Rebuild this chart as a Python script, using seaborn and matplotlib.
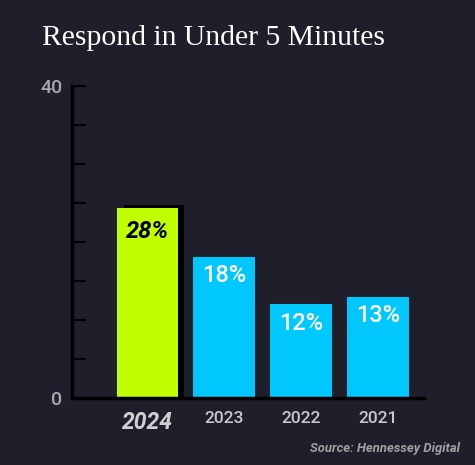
import matplotlib
matplotlib.use('Agg')
import matplotlib.pyplot as plt
import seaborn as sns
import pandas as pd

# data (bar heights as drawn, labels as printed)
years = ['2024', '2023', '2022', '2021']
heights = [24.3, 18.1, 12.0, 13.0]
labels = ['28%', '18%', '12%', '13%']

bg = '#1e1f2a'
green = '#bfff00'
blue = '#00c8ff'

sns.set_style('white')
plt.rcParams['font.family'] = ['Roboto', 'DejaVu Sans']

df = pd.DataFrame({'year': years, 'value': heights})

fig = plt.figure(figsize=(4.75, 4.65), dpi=100, facecolor=bg)
ax = fig.add_axes([72/475, 67/465, 352/475, 312/465])
ax.set_facecolor(bg)

# shadow behind the highlighted bar
ax.bar(0 + 0.09, heights[0] + 0.5, width=0.78, color='black',
       edgecolor='none', linewidth=0, zorder=1)
sns.barplot(data=df, x='year', y='value', hue='year',
            palette=[green, blue, blue, blue], width=0.8,
            saturation=1, legend=False, ax=ax, zorder=2,
            edgecolor='none', linewidth=0)

for i, (h, lab) in enumerate(zip(heights, labels)):
    if i == 0:
        ax.text(i, h - 2.9, lab, ha='center', va='center', color='black',
                fontsize=17, fontweight='bold', fontstyle='italic', zorder=3)
    else:
        ax.text(i, h - 2.4, lab, ha='center', va='center', color='white',
                fontsize=17, fontweight='medium', zorder=3)

ax.set_xlim(-0.98, 3.6)
ax.set_ylim(0, 40)
ax.set_yticks(range(0, 45, 5))
ax.set_yticklabels(['0', '', '', '', '', '', '', '', '40'])
ax.tick_params(axis='y', left=True, direction='in', length=10, width=1.5,
               color='black', labelcolor='#a8a8a8', labelsize=14, pad=7)
ax.tick_params(axis='x', bottom=False, length=0, labelcolor='#c8c8c8',
               labelsize=12.5, pad=9)
for t in ax.get_yticklabels():
    t.set_fontweight('medium')
xt = ax.get_xticklabels()
for i, t in enumerate(xt):
    t.set_fontweight('medium')
    if i == 0:
        t.set_fontweight('bold')
        t.set_fontstyle('italic')
        t.set_fontsize(16.5)
        t.set_color('#d0d0d0')
ax.set_xlabel('')
ax.set_ylabel('')

for s in ['top', 'right']:
    ax.spines[s].set_visible(False)
for s in ['left', 'bottom']:
    ax.spines[s].set_color('black')
    ax.spines[s].set_linewidth(2.5)
ax.spines['bottom'].set_capstyle('projecting')

fig.text(42/475, 1 - 38/465, 'Respond in Under 5 Minutes', color='white',
         fontsize=21.3, family=['Liberation Serif', 'DejaVu Serif'],
         ha='left', va='center')
fig.text(460/475, 1 - 448/465, 'Source: Hennessey Digital', color='#a0a0a0',
         fontsize=9.4, fontweight='bold', fontstyle='italic', ha='right', va='center')

fig.savefig('out.png', dpi=100, facecolor=bg)
